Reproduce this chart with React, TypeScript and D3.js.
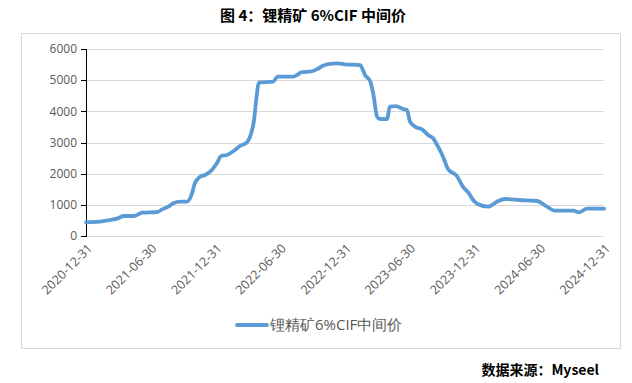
import React from "react";
import * as d3 from "d3";

const dates: string[] = [
  "2020-12-31","2021-02-08","2021-03-08","2021-03-31","2021-04-17","2021-05-13","2021-05-24","2021-06-07",
  "2021-07-20","2021-08-03","2021-08-20","2021-09-03","2021-09-23","2021-10-12","2021-10-26","2021-11-03",
  "2021-11-18","2021-12-02","2021-12-21","2022-01-04","2022-01-16","2022-02-02","2022-02-24","2022-03-10",
  "2022-03-30","2022-04-10","2022-04-19","2022-04-24","2022-05-03","2022-06-11","2022-06-25","2022-08-07",
  "2022-08-18","2022-09-01","2022-09-24","2022-10-13","2022-10-30","2022-11-14","2022-12-12","2022-12-31",
  "2023-02-12","2023-02-20","2023-02-26","2023-03-12","2023-03-21","2023-04-01","2023-04-09","2023-04-29",
  "2023-05-07","2023-05-24","2023-06-13","2023-06-24","2023-07-03","2023-07-17","2023-08-06","2023-08-23",
  "2023-09-06","2023-09-20","2023-10-04","2023-10-18","2023-11-12","2023-11-29","2023-12-16","2023-12-28",
  "2024-01-11","2024-02-08","2024-03-04","2024-03-27","2024-05-08","2024-06-25","2024-07-23","2024-08-15",
  "2024-10-05","2024-10-22","2024-11-13","2024-12-31"
];
const prices: number[] = [
  440,460,513,567,642,642,674,748,
  770,856,941,1048,1100,1100,1370,1690,
  1900,1957,2117,2332,2567,2600,2760,2887,
  3005,3262,3722,4257,4930,4950,5112,5112,
  5165,5261,5272,5348,5464,5518,5540,5508,
  5486,5326,5165,4983,4578,3827,3754,3754,
  4148,4170,4074,4042,3667,3507,3422,3240,
  3134,2865,2544,2150,1925,1582,1370,1155,
  1016,941,1100,1187,1155,1123,941,812,
  812,760,876,876
];
const xTickLabels: string[] = [
  "2020-12-31","2021-06-30","2021-12-31","2022-06-30","2022-12-31",
  "2023-06-30","2023-12-31","2024-06-30","2024-12-31"
];
const yTicks: number[] = [0, 1000, 2000, 3000, 4000, 5000, 6000];
const seriesName = "锂精矿6%CIF中间价";
const title = "图 4：锂精矿 6%CIF 中间价";
const source = "数据来源：Myseel";

export default function App() {
  const parse = d3.timeParse("%Y-%m-%d");
  const data = dates.map((d, i) => ({ t: parse(d) as Date, v: prices[i] }));
  const x = d3.scaleTime()
    .domain([parse(xTickLabels[0]) as Date, parse(xTickLabels[xTickLabels.length - 1]) as Date])
    .range([86, 604]);
  const y = d3.scaleLinear().domain([0, 6000]).range([236, 49]);
  const line = d3.line<{ t: Date; v: number }>()
    .x(d => x(d.t)).y(d => y(d.v)).curve(d3.curveMonotoneX);
  const font = "'Open Sans', 'Noto Sans', sans-serif";
  const gray = "#595959";
  return (
    <div style={{ position: "absolute", left: 0, top: 0 }}>
      <svg width={632} height={383} style={{ display: "block" }}>
        <rect x={0} y={0} width={632} height={383} fill="#fff" />
        <text x={313} y={21} textAnchor="middle" fontSize={15} fontWeight="bold"
          fontFamily="'Noto Sans CJK SC', sans-serif" fill="#000">{title}</text>
        <rect x={21.5} y={33.5} width={599} height={315} fill="#fff" stroke="#d9d9d9" strokeWidth={1} />
        {yTicks.map(t => (
          <g key={t}>
            <line x1={86} x2={604} y1={Math.round(y(t)) + 0.5} y2={Math.round(y(t)) + 0.5}
              stroke="#d9d9d9" strokeWidth={1} />
            <line x1={81} x2={86} y1={Math.round(y(t)) + 0.5} y2={Math.round(y(t)) + 0.5}
              stroke="#000" strokeWidth={1} />
            <text x={77} y={y(t)} dy="0.36em" textAnchor="end" fontSize={12}
              fontFamily={font} fill={gray}>{t}</text>
          </g>
        ))}
        <line x1={86.5} x2={86.5} y1={Math.round(y(6000))} y2={Math.round(y(0)) + 1}
          stroke="#000" strokeWidth={1} />
        {xTickLabels.map(s => {
          const xx = x(parse(s) as Date);
          return (
            <text key={s} transform={`translate(${xx + 4},${246}) rotate(-45)`} textAnchor="end"
              dy="0.36em" fontSize={12.5} fontFamily={font} fill={gray}>{s}</text>
          );
        })}
        <path d={line(data) || ""} fill="none" stroke="#5b9bd5" strokeWidth={3.8}
          strokeLinejoin="round" strokeLinecap="round" />
        <line x1={237} x2={267} y1={325} y2={325} stroke="#5b9bd5" strokeWidth={3.8} strokeLinecap="round" />
        <text x={270} y={325} dy="0.36em" fontSize={15} fontFamily={font} fill={gray}>{seriesName}</text>
        <text x={599} y={375} textAnchor="end" fontSize={14} fontWeight="bold"
          fontFamily="'Noto Sans CJK SC', sans-serif" fill="#000">{source}</text>
      </svg>
    </div>
  );
}
